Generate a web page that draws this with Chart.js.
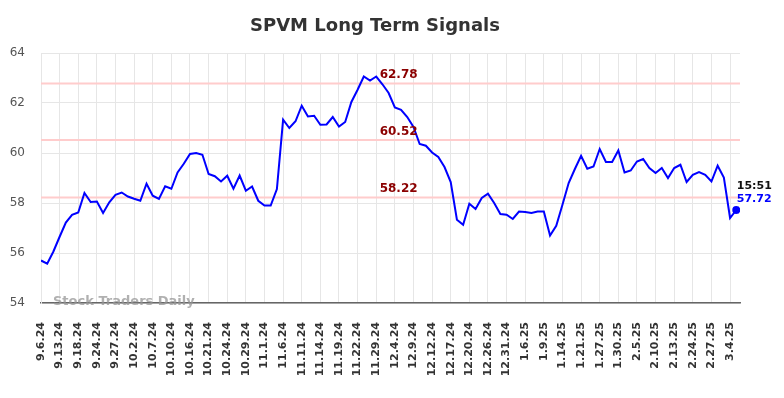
<!DOCTYPE html>
<html>
<head>
<meta charset="utf-8">
<script src="https://cdn.jsdelivr.net/npm/chart.js@4.4.1/dist/chart.umd.min.js"></script>
<style>
html,body{margin:0;padding:0;background:#fff;}
#wrap{width:784px;height:398px;position:relative;}
</style>
</head>
<body>
<div id="wrap"><canvas id="c" width="784" height="398"></canvas></div>
<script>
const tickLabels = ["9.6.24","9.13.24","9.18.24","9.24.24","9.27.24","10.2.24","10.7.24","10.10.24","10.16.24","10.21.24","10.24.24","10.29.24","11.1.24","11.6.24","11.11.24","11.14.24","11.19.24","11.22.24","11.29.24","12.4.24","12.9.24","12.12.24","12.17.24","12.20.24","12.26.24","12.31.24","1.6.25","1.9.25","1.14.25","1.21.25","1.27.25","1.30.25","2.5.25","2.10.25","2.13.25","2.24.25","2.27.25","3.4.25"];
const values = [55.70,55.57,56.06,56.65,57.22,57.53,57.62,58.40,58.04,58.06,57.60,58.03,58.33,58.42,58.26,58.17,58.09,58.77,58.29,58.16,58.67,58.57,59.22,59.57,59.96,60.00,59.93,59.16,59.07,58.86,59.09,58.57,59.10,58.49,58.66,58.09,57.90,57.90,58.56,61.33,61.00,61.27,61.89,61.46,61.49,61.13,61.14,61.44,61.06,61.24,62.04,62.53,63.06,62.90,63.06,62.75,62.40,61.82,61.73,61.44,61.04,60.36,60.29,60.02,59.84,59.44,58.84,57.33,57.13,57.97,57.76,58.20,58.37,58.00,57.56,57.53,57.36,57.66,57.64,57.60,57.66,57.66,56.70,57.09,57.93,58.80,59.36,59.89,59.37,59.46,60.16,59.64,59.64,60.10,59.22,59.30,59.66,59.76,59.40,59.20,59.40,59.00,59.40,59.53,58.84,59.13,59.24,59.13,58.86,59.49,59.02,57.40,57.72];
const signalLevels = [62.78, 60.52, 58.22];
const signalLabels = ["62.78", "60.52", "58.22"];
const lastTime = "15:51";
const lastValue = "57.72";
const titleText = "SPVM Long Term Signals";
const watermark = "Stock Traders Daily";

const points = values.map((v, i) => ({x: i, y: v}));
const lastIdx = values.length - 1;

const overlay = {
  id: 'overlay',
  beforeDatasetsDraw(chart) {
    const {ctx, chartArea, scales} = chart;
    ctx.save();
    ctx.strokeStyle = '#ffcccc';
    ctx.lineWidth = 2;
    signalLevels.forEach(v => {
      const y = scales.y.getPixelForValue(v);
      ctx.beginPath();
      ctx.moveTo(chartArea.left, y);
      ctx.lineTo(chartArea.right, y);
      ctx.stroke();
    });
    ctx.restore();
  },
  afterDatasetsDraw(chart) {
    const {ctx, chartArea, scales} = chart;
    ctx.save();
    ctx.font = 'bold 12px "DejaVu Sans"';
    ctx.fillStyle = '#8b0000';
    ctx.textAlign = 'left';
    ctx.textBaseline = 'middle';
    const lx = chartArea.left + chartArea.width * 0.4845;
    signalLevels.forEach((v, k) => {
      const y = scales.y.getPixelForValue(v);
      ctx.fillText(signalLabels[k], lx, y - 8.5);
    });
    // last point labels
    const px = scales.x.getPixelForValue(lastIdx);
    const py = scales.y.getPixelForValue(values[lastIdx]);
    ctx.font = 'bold 11px "DejaVu Sans"';
    ctx.fillStyle = '#111';
    ctx.fillText(lastTime, px + 0.5, py - 23.5);
    ctx.fillStyle = '#0000ff';
    ctx.fillText(lastValue, px + 0.5, py - 11);
    // watermark
    ctx.font = 'bold 13px "DejaVu Sans"';
    ctx.fillStyle = 'rgba(150,150,150,0.75)';
    ctx.fillText(watermark, 53, chartArea.bottom - 1);
    // title
    ctx.font = 'bold 18px "DejaVu Sans"';
    ctx.fillStyle = '#333';
    ctx.textAlign = 'center';
    ctx.fillText(titleText, 375, 26);
    ctx.restore();
  }
};

new Chart(document.getElementById('c'), {
  type: 'line',
  data: {
    datasets: [{
      data: points,
      borderColor: '#0000ff',
      borderWidth: 2,
      tension: 0,
      fill: false,
      pointRadius: ctx => ctx.dataIndex === lastIdx ? 4 : 0,
      pointBackgroundColor: '#0000ff',
      pointBorderWidth: 0,
      pointHoverRadius: 0
    }]
  },
  options: {
    responsive: false,
    animation: false,
    events: [],
    layout: {padding: {top: 53, right: 44, left: 0, bottom: 0}},
    plugins: {legend: {display: false}, title: {display: false}, tooltip: {enabled: false}},
    scales: {
      x: {
        type: 'linear',
        min: 0,
        max: 112.6,
        afterFit(s) { s.height = 95; },
        grid: {color: '#e6e6e6', lineWidth: 1, drawTicks: false},
        border: {color: '#666', width: 1.5},
        ticks: {
          stepSize: 3,
          includeBounds: false,
          autoSkip: false,
          minRotation: 90,
          maxRotation: 90,
          padding: 19,
          color: '#333',
          font: {family: '"DejaVu Sans"', size: 11, weight: 'bold'},
          callback: v => tickLabels[Math.round(v / 3)]
        }
      },
      y: {
        min: 54,
        max: 64,
        afterFit(s) { s.width = 41; },
        grid: {color: '#e6e6e6', lineWidth: 1, drawTicks: false},
        border: {color: '#e6e6e6'},
        ticks: {
          stepSize: 2,
          padding: 16,
          color: '#555',
          font: {family: '"DejaVu Sans"', size: 12}
        }
      }
    }
  },
  plugins: [overlay]
});
</script>
</body>
</html>
